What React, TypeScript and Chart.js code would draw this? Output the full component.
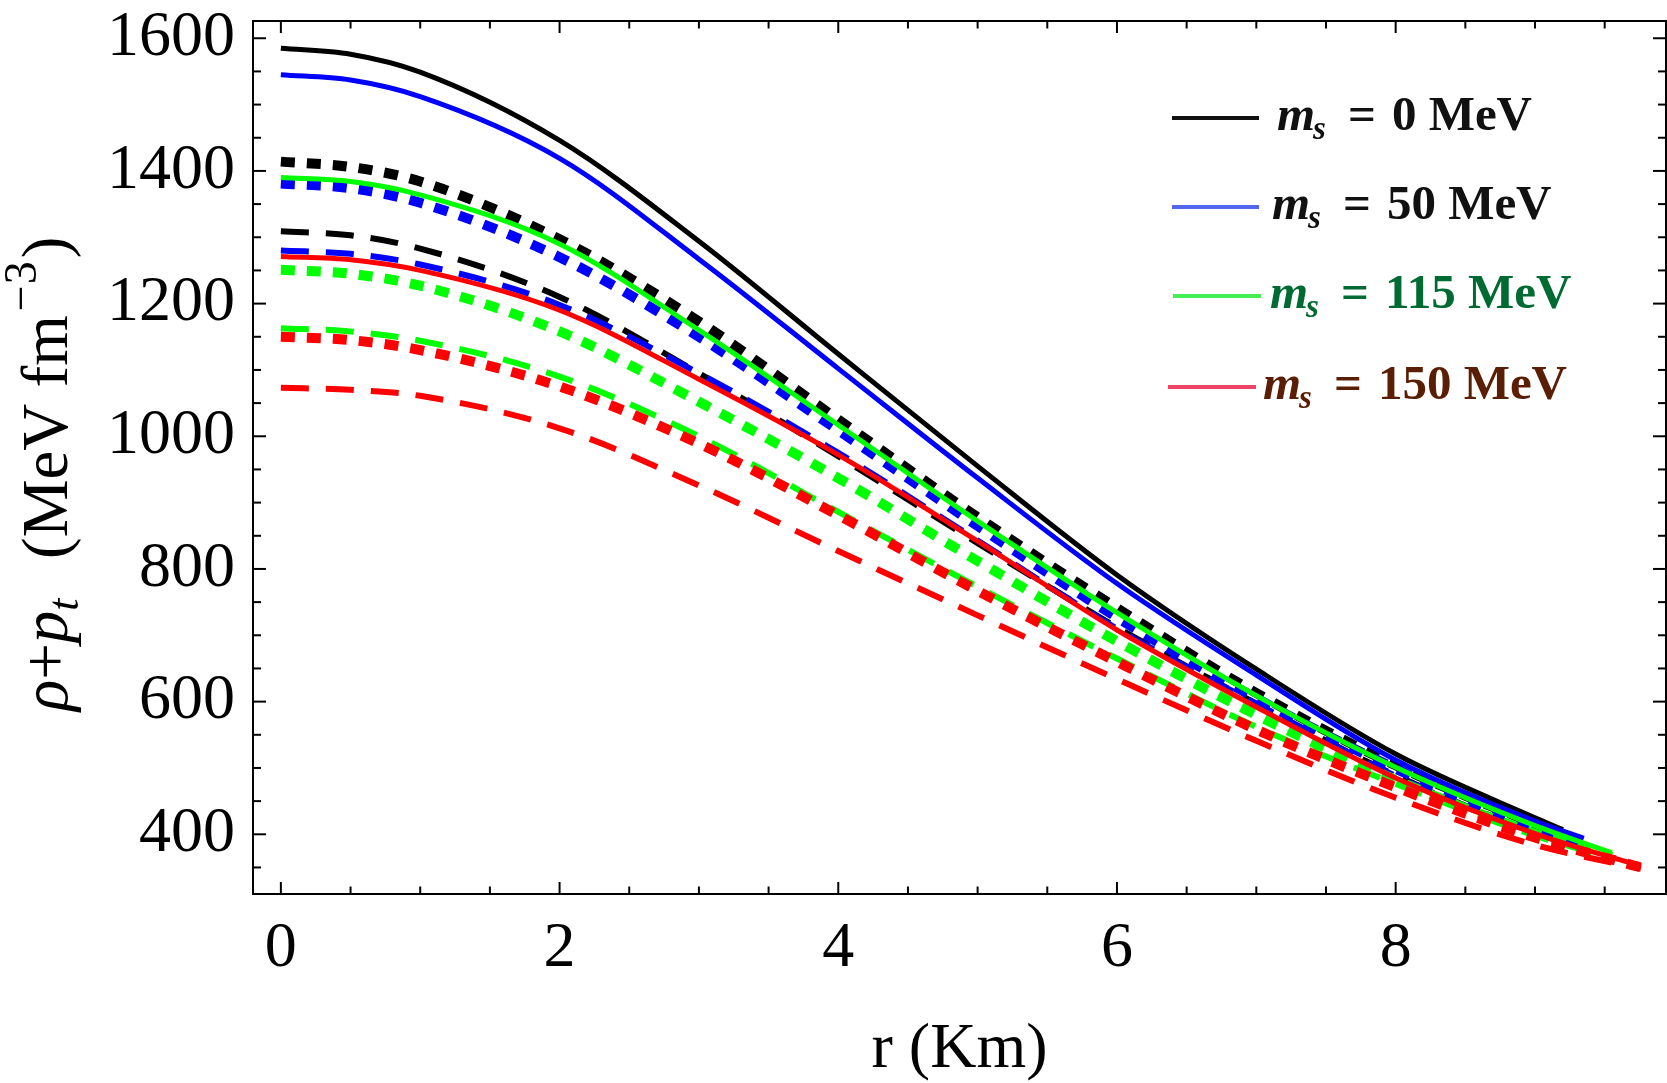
import React, { useEffect, useRef } from "react";
import { Chart, registerables } from "chart.js";

Chart.register(...registerables);

const SERIF = '"Liberation Serif", "Times New Roman", serif';

// ---------- axes ----------
const X_MIN = -0.2;
const X_MAX = 9.94;
const Y_MIN = 310;
const Y_MAX = 1626;
const xTickLabels = [0, 2, 4, 6, 8];
const yTickLabels = [400, 600, 800, 1000, 1200, 1400, 1600];
const massLabels = ["0", "50", "115", "150"];

// ---------- data: r (Km) and rho + p_t (MeV fm^-3) ----------
// m_s = 0 MeV (black)
const r_ms0 = [0, 0.5, 1, 2, 3, 4, 5, 6, 7, 8, 9, 9.2];
const ms0_solid = [1585, 1576, 1549, 1446, 1294, 1124, 955, 791, 649, 521, 425, 407];
const ms0_dotted = [1414, 1406, 1384, 1297, 1173, 1025, 878, 741, 613, 504, 416, 400];
const ms0_dashed = [1309, 1303, 1283, 1210, 1095, 970, 839, 712, 597, 489, 402, 388];

// m_s = 50 MeV (blue)
const r_ms50 = [0, 0.5, 1, 2, 3, 4, 5, 6, 7, 8, 9, 9.35];
const ms50_solid = [1545, 1537, 1512, 1419, 1267, 1102, 937, 778, 640, 512, 420, 394];
const ms50_dotted = [1381, 1374, 1352, 1270, 1150, 1009, 865, 727, 605, 499, 411, 388];
const ms50_dashed = [1280, 1275, 1259, 1198, 1095, 975, 843, 710, 597, 488, 402, 383];

// m_s = 115 MeV (green)
const r_ms115 = [0, 0.5, 1, 2, 3, 4, 5, 6, 7, 8, 9, 9.55];
const ms115_solid = [1390, 1384, 1364, 1290, 1160, 1017, 872, 734, 609, 501, 413, 372];
const ms115_dotted = [1251, 1245, 1227, 1158, 1052, 937, 812, 691, 580, 482, 401, 366];
const ms115_dashed = [1163, 1158, 1144, 1090, 1000, 886, 773, 665, 562, 476, 398, 364];

// m_s = 150 MeV (red)
const r_ms150 = [0, 0.5, 1, 2, 3, 4, 5, 6, 7, 8, 9, 9.76];
const ms150_solid = [1271, 1266, 1250, 1190, 1086, 972, 842, 708, 592, 485, 401, 352];
const ms150_dotted = [1150, 1145, 1130, 1075, 989, 881, 767, 660, 558, 471, 395, 350];
const ms150_dashed = [1073, 1070, 1061, 1012, 926, 827, 730, 634, 541, 455, 384, 348];

// ---------- styles ----------
const lineColors = ["#000000", "#0000ff", "#00ff00", "#ff0000"];
const legendLineColors = ["#111111", "#5566ee", "#44ee55", "#ee4466"];
const legendTextColors = ["#111111", "#111111", "#006a33", "#5a1e05"];

const STYLE_SOLID = { borderWidth: 5, borderDash: [] as number[] };
const STYLE_DOTTED = { borderWidth: 10, borderDash: [14, 12] };
const STYLE_DASHED = { borderWidth: 6, borderDash: [28, 17] };

type Series = { r: number[]; v: number[]; color: number; style: typeof STYLE_SOLID; name: string };

const seriesList: Series[] = [
  { r: r_ms0, v: ms0_solid, color: 0, style: STYLE_SOLID, name: "ms0 solid" },
  { r: r_ms0, v: ms0_dashed, color: 0, style: STYLE_DASHED, name: "ms0 dashed" },
  { r: r_ms0, v: ms0_dotted, color: 0, style: STYLE_DOTTED, name: "ms0 dotted" },
  { r: r_ms50, v: ms50_solid, color: 1, style: STYLE_SOLID, name: "ms50 solid" },
  { r: r_ms50, v: ms50_dashed, color: 1, style: STYLE_DASHED, name: "ms50 dashed" },
  { r: r_ms50, v: ms50_dotted, color: 1, style: STYLE_DOTTED, name: "ms50 dotted" },
  { r: r_ms115, v: ms115_solid, color: 2, style: STYLE_SOLID, name: "ms115 solid" },
  { r: r_ms115, v: ms115_dashed, color: 2, style: STYLE_DASHED, name: "ms115 dashed" },
  { r: r_ms115, v: ms115_dotted, color: 2, style: STYLE_DOTTED, name: "ms115 dotted" },
  { r: r_ms150, v: ms150_solid, color: 3, style: STYLE_SOLID, name: "ms150 solid" },
  { r: r_ms150, v: ms150_dashed, color: 3, style: STYLE_DASHED, name: "ms150 dashed" },
  { r: r_ms150, v: ms150_dotted, color: 3, style: STYLE_DOTTED, name: "ms150 dotted" },
];

const isMultiple = (v: number, step: number) => Math.abs(v / step - Math.round(v / step)) < 1e-6;

const decorPlugin = {
  id: "decor",
  afterDraw(chart: any) {
    const { ctx, chartArea: a, scales } = chart;
    ctx.save();
    // frame
    ctx.strokeStyle = "#000";
    ctx.lineWidth = 2;
    ctx.strokeRect(a.left, a.top, a.right - a.left, a.bottom - a.top);
    const seg = (x1: number, y1: number, x2: number, y2: number) => {
      ctx.beginPath();
      ctx.moveTo(x1, y1);
      ctx.lineTo(x2, y2);
      ctx.stroke();
    };
    // x ticks (bottom and top, inward)
    const xs = scales.x;
    xs.ticks.forEach((t: any) => {
      const p = xs.getPixelForValue(t.value);
      if (p < a.left + 1 || p > a.right - 1) return;
      const len = isMultiple(t.value, 2) ? 12 : 7.5;
      seg(p, a.bottom, p, a.bottom - len);
      seg(p, a.top, p, a.top + len);
    });
    // y ticks (left and right, inward)
    const ys = scales.y;
    ys.ticks.forEach((t: any) => {
      const p = ys.getPixelForValue(t.value);
      if (p < a.top + 1 || p > a.bottom - 1) return;
      const len = isMultiple(t.value, 200) ? 13 : 8;
      seg(a.left, p, a.left + len, p);
      seg(a.right, p, a.right - len, p);
    });

    ctx.fillStyle = "#000";
    ctx.textBaseline = "alphabetic";

    // x title
    ctx.font = `64px ${SERIF}`;
    ctx.textAlign = "center";
    ctx.fillText("r (Km)", (a.left + a.right) / 2, 1067);

    // y title (rotated)
    ctx.save();
    ctx.translate(67, 711);
    ctx.rotate(-Math.PI / 2);
    ctx.textAlign = "left";
    let x = 0;
    const put = (txt: string, font: string, dy = 0) => {
      ctx.font = font;
      ctx.fillText(txt, x, dy);
      x += ctx.measureText(txt).width;
    };
    put("ρ", `italic 65px ${SERIF}`);
    put("+", `65px ${SERIF}`);
    put("p", `italic 65px ${SERIF}`);
    put("t", `italic 44px ${SERIF}`, 11);
    x = 152;
    put("(MeV fm", `65px ${SERIF}`);
    x += 4;
    put("−", `46px ${SERIF}`, -31);
    x += 1;
    put("3", `46px ${SERIF}`, -31);
    x += 3;
    put(")", `65px ${SERIF}`);
    ctx.restore();

    // legend
    const rowLineY = [118, 207, 296, 387];
    const rowTextX = [1277, 1272, 1270, 1263];
    const lineX1 = [1172, 1172, 1173, 1168];
    const lineX2 = [1259, 1259, 1261, 1256];
    massLabels.forEach((m, i) => {
      const y = rowLineY[i];
      ctx.strokeStyle = legendLineColors[i];
      ctx.lineWidth = 4;
      seg(lineX1[i], y, lineX2[i], y);
      ctx.fillStyle = legendTextColors[i];
      ctx.textAlign = "left";
      const base = y + 12;
      let tx = rowTextX[i];
      ctx.font = `italic bold 49px ${SERIF}`;
      ctx.fillText("m", tx, base);
      tx += ctx.measureText("m").width;
      ctx.font = `italic bold 33px ${SERIF}`;
      ctx.fillText("s", tx - 2, base + 9);
      tx += ctx.measureText("s").width;
      tx += 20;
      ctx.font = `bold 49px ${SERIF}`;
      ctx.fillText("=", tx, base);
      tx += ctx.measureText("=").width + 16;
      ctx.fillText(`${m} MeV`, tx, base);
    });

    ctx.restore();
  },
};

export default function App() {
  const canvasRef = useRef<HTMLCanvasElement | null>(null);

  useEffect(() => {
    document.body.style.margin = "0";
    const canvas = canvasRef.current;
    if (!canvas) return;

    const n = seriesList.length;
    const datasets = seriesList.map((s, i) => ({
      label: s.name,
      data: s.r.map((r, k) => ({ x: r, y: s.v[k] })),
      borderColor: lineColors[s.color],
      backgroundColor: lineColors[s.color],
      borderWidth: s.style.borderWidth,
      borderDash: s.style.borderDash,
      borderCapStyle: "butt" as const,
      borderJoinStyle: "round" as const,
      pointRadius: 0,
      fill: false,
      cubicInterpolationMode: "monotone" as const,
      order: n - 1 - i,
    }));

    const chart = new Chart(canvas, {
      type: "line",
      data: { datasets },
      options: {
        responsive: false,
        animation: false,
        devicePixelRatio: 1,
        layout: { padding: { top: 21, right: 1, left: 0, bottom: 0 } },
        plugins: { legend: { display: false }, tooltip: { enabled: false } },
        elements: { point: { radius: 0 } },
        scales: {
          x: {
            type: "linear",
            min: X_MIN,
            max: X_MAX,
            grid: { display: false, drawTicks: false },
            border: { display: false },
            ticks: {
              stepSize: 0.5,
              autoSkip: false,
              includeBounds: false,
              maxRotation: 0,
              minRotation: 0,
              padding: 17,
              color: "#000",
              font: { family: SERIF, size: 64 },
              callback: (v: any) => (xTickLabels.some((t) => Math.abs(t - Number(v)) < 1e-6) ? String(Math.round(Number(v))) : ""),
            },
            afterFit: (s: any) => {
              s.height = 189;
              s.paddingLeft = 0;
              s.paddingRight = 0;
            },
          },
          y: {
            type: "linear",
            min: Y_MIN,
            max: Y_MAX,
            grid: { display: false, drawTicks: false },
            border: { display: false },
            ticks: {
              stepSize: 50,
              autoSkip: false,
              includeBounds: false,
              padding: 18,
              color: "#000",
              font: { family: SERIF, size: 64 },
              callback: (v: any) => (yTickLabels.some((t) => Math.abs(t - Number(v)) < 1e-6) ? String(Math.round(Number(v))) : ""),
            },
            afterFit: (s: any) => {
              s.width = 253;
              s.paddingTop = 0;
              s.paddingBottom = 0;
            },
          },
        },
      },
      plugins: [decorPlugin],
    });

    return () => chart.destroy();
  }, []);

  return (
    <div style={{ width: 1667, height: 1083, background: "#fff" }}>
      <canvas ref={canvasRef} width={1667} height={1083} style={{ display: "block" }} />
    </div>
  );
}
